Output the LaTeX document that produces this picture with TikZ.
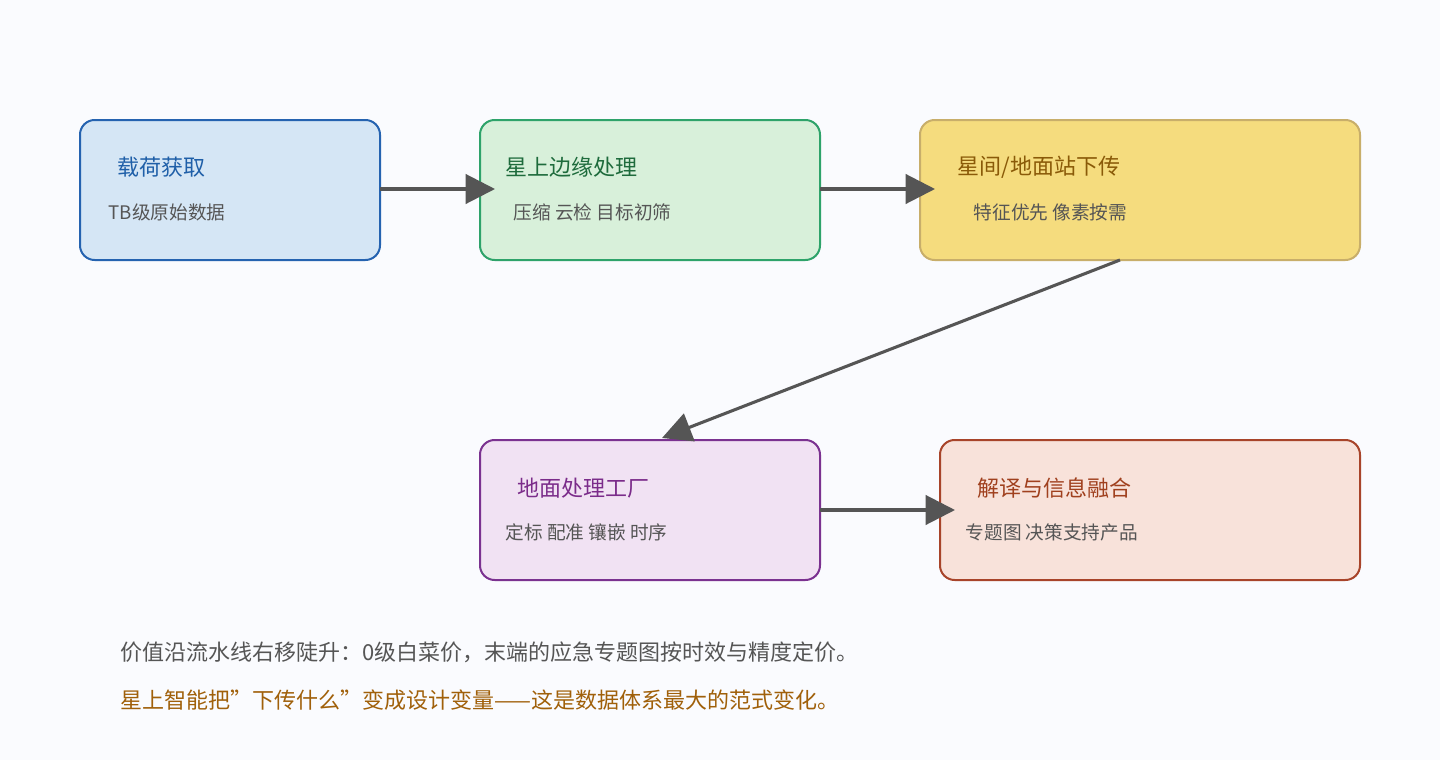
\documentclass[tikz,border=0pt]{standalone}
\usepackage{fontspec}
\setmainfont{Noto Sans CJK SC}
\usetikzlibrary{arrows.meta}
\definecolor{bg}{HTML}{FAFBFE}
\definecolor{f1}{HTML}{D5E6F5}\definecolor{d1}{HTML}{2563B0}\definecolor{t1}{HTML}{1F5FA8}
\definecolor{f2}{HTML}{D8F0DA}\definecolor{d2}{HTML}{2EA36A}\definecolor{t2}{HTML}{1E6B3C}
\definecolor{f3}{HTML}{F5DC7E}\definecolor{d3}{HTML}{C8AE6A}\definecolor{t3}{HTML}{8A5A08}
\definecolor{f4}{HTML}{F1E2F3}\definecolor{d4}{HTML}{7B3290}\definecolor{t4}{HTML}{7B2C8A}
\definecolor{f5}{HTML}{F8E2DA}\definecolor{d5}{HTML}{A8442A}\definecolor{t5}{HTML}{A0401E}
\definecolor{gr}{HTML}{555555}\definecolor{br}{HTML}{A0600A}
\begin{document}
\begin{tikzpicture}[x=0.75pt,y=-0.75pt,
 box/.style={draw,line width=1.5pt,rounded corners=11pt},
 ttl/.style={anchor=west,font=\fontsize{16.5pt}{18pt}\selectfont},
 sub/.style={anchor=west,text=gr,font=\fontsize{14pt}{16pt}\selectfont},
 arr/.style={draw=gr,line width=2.3pt,-{Triangle[length=22pt,width=22pt]}}]
\fill[bg] (0,0) rectangle (1440,760);
\useasboundingbox (0,0) rectangle (1440,760);
\draw[box,fill=f1,draw=d1] (80,120) rectangle (380,260);
\draw[box,fill=f2,draw=d2] (480,120) rectangle (820,260);
\draw[box,fill=f3,draw=d3] (920,120) rectangle (1360,260);
\draw[box,fill=f4,draw=d4] (480,440) rectangle (820,580);
\draw[box,fill=f5,draw=d5] (940,440) rectangle (1360,580);
\node[ttl,text=t1] (a1) at (113,167) {载荷获取};
\node[sub] (b1) at (104,212) {TB级原始数据};
\node[ttl,text=t2] (a2) at (501,167) {星上边缘处理};
\node[sub] (b2) at (509,212) {压缩 云检 目标初筛};
\node[ttl,text=t3] (a3) at (953,167) {星间/地面站下传};
\node[sub] (b3) at (969,212) {特征优先 像素按需};
\node[ttl,text=t4] (a4) at (513,488) {地面处理工厂};
\node[sub] (b4) at (501,532) {定标 配准 镶嵌 时序};
\node[ttl,text=t5] (a5) at (973,488) {解译与信息融合};
\node[sub] (b5) at (961,532) {专题图 决策支持产品};
\coordinate (p1) at (380,189); \coordinate (q1) at (495,189);
\coordinate (p2) at (820,189); \coordinate (q2) at (935,189);
\coordinate (p3) at (1120,260); \coordinate (q3) at (662,438);
\coordinate (p4) at (820,510); \coordinate (q4) at (955,510);
\draw[arr] (p1)--(q1); \draw[arr] (p2)--(q2); \draw[arr] (p3)--(q3); \draw[arr] (p4)--(q4);
\node[anchor=west,text=gr,font=\fontsize{16.5pt}{18pt}\selectfont] (n1) at (116,652) {价值沿流水线右移陡升：0级白菜价，末端的应急专题图按时效与精度定价。};
\node[anchor=west,text=br,font=\fontsize{16.5pt}{18pt}\selectfont] (n2) at (116,700) {星上智能把"下传什么"变成设计变量——这是数据体系最大的范式变化。};
\end{tikzpicture}
\end{document}
